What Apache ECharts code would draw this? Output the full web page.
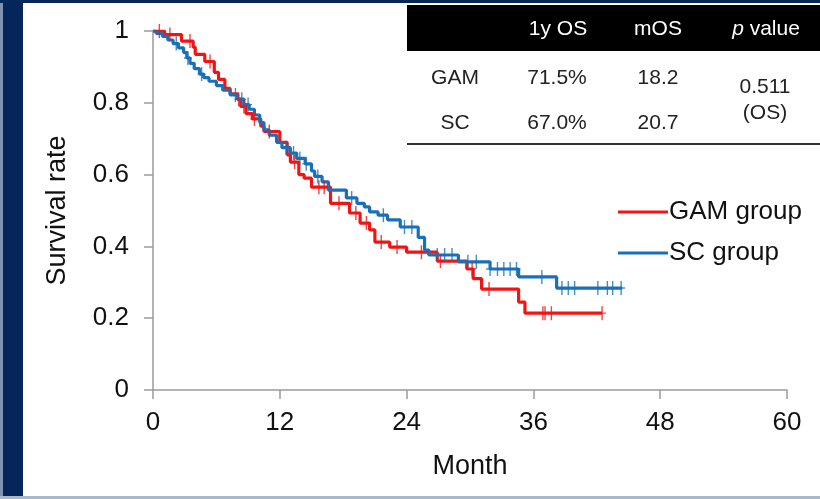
<!DOCTYPE html>
<html>
<head>
<meta charset="utf-8">
<script src="https://cdn.jsdelivr.net/npm/echarts@6/dist/echarts.min.js"></script>
<style>
  html, body { margin: 0; padding: 0; background: #fff; }
  #chart { width: 820px; height: 499px; }
</style>
</head>
<body>
<div id="chart"></div>
<script>
// survival curves (month, survival after the drop)
var gamTime = [1.1, 2.7, 3.8, 4.0, 4.9, 5.8, 6.2, 6.8, 7.3, 8.0, 8.3, 8.8, 9.4, 10.2, 10.5, 12.0, 12.7, 13.0, 13.8, 14.3, 15.0, 16.8, 18.6, 19.6, 20.5, 21.0, 22.4, 24.0, 26.9, 29.7, 30.3, 31.1, 34.6, 35.2];
var gamSurv = [0.99, 0.972, 0.955, 0.935, 0.915, 0.885, 0.865, 0.84, 0.825, 0.81, 0.79, 0.77, 0.755, 0.735, 0.72, 0.69, 0.655, 0.635, 0.6, 0.59, 0.565, 0.52, 0.493, 0.465, 0.446, 0.412, 0.398, 0.384, 0.359, 0.337, 0.31, 0.281, 0.245, 0.214];
var gamEnd = 42.5;
var gamCensor = [0.6, 1.6, 3.5, 5.4, 8.1, 8.6, 9.6, 11.0, 13.4, 15.7, 16.2, 17.6, 19.2, 20.2, 21.6, 23.1, 25.4, 27.2, 30.2, 31.8, 36.9, 37.1, 37.7, 42.5];

var scTime = [0.3, 0.9, 1.4, 1.9, 2.4, 2.9, 3.2, 3.5, 3.9, 4.4, 4.8, 5.3, 6.0, 6.6, 7.3, 8.0, 8.6, 9.1, 9.6, 10.1, 10.5, 11.0, 11.7, 12.2, 13.0, 13.6, 14.4, 15.0, 15.3, 16.0, 16.6, 18.3, 19.3, 20.0, 20.5, 21.3, 22.2, 23.4, 25.1, 25.7, 26.1, 28.9, 31.9, 34.6, 38.2];
var scSurv = [0.993, 0.985, 0.975, 0.965, 0.953, 0.94, 0.925, 0.91, 0.895, 0.88, 0.87, 0.86, 0.848, 0.835, 0.822, 0.81, 0.795, 0.782, 0.766, 0.745, 0.725, 0.71, 0.69, 0.675, 0.66, 0.645, 0.63, 0.61, 0.595, 0.58, 0.557, 0.535, 0.52, 0.51, 0.496, 0.487, 0.474, 0.454, 0.425, 0.39, 0.376, 0.357, 0.337, 0.315, 0.284];
var scEnd = 44.4;
var scCensor = [2.2, 3.3, 4.6, 7.8, 8.4, 9.0, 12.6, 13.3, 13.9, 14.5, 15.6, 18.8, 21.8, 23.8, 24.5, 26.9, 27.6, 28.3, 29.8, 30.6, 31.9, 32.6, 33.2, 33.8, 34.4, 36.8, 38.7, 39.3, 39.9, 42.1, 43.0, 43.5, 44.3];

var monthTicks = [0, 12, 24, 36, 48, 60];
var rateTicks = [0, 0.2, 0.4, 0.6, 0.8, 1];

function curve(times, surv, end) {
  var pts = [[0, 1]];
  for (var i = 0; i < times.length; i++) pts.push([times[i], surv[i]]);
  pts.push([end, surv[surv.length - 1]]);
  return pts;
}
function survAt(times, surv, t) {
  var s = 1;
  for (var i = 0; i < times.length; i++) { if (times[i] <= t) s = surv[i]; }
  return s;
}
function marks(cens, times, surv) {
  return cens.map(function (t) { return [t, survAt(times, surv, t)]; });
}

var RED = '#f01414', BLUE = '#1870b8';
var plus = 'path://M3.3,0H4.7V6.3H8V7.7H4.7V14H3.3V7.7H0V6.3H3.3Z';
var font = '"Liberation Sans", Arial, sans-serif';
var cell = '21px ' + font;

function txt(x, y, s, fill) {
  return { type: 'text', x: x, y: y, style: { text: s, fill: fill, font: cell, textAlign: 'center', textVerticalAlign: 'middle' } };
}

var chart = echarts.init(document.getElementById('chart'));
chart.setOption({
  animation: false,
  backgroundColor: '#fff',
  textStyle: { fontFamily: font },
  grid: { left: 153, right: 33, top: 31, bottom: 109 },
  legend: {
    data: ['GAM group', 'SC group'],
    orient: 'vertical', left: 613, top: 194,
    icon: 'rect', itemWidth: 50, itemHeight: 3, itemGap: 15,
    textStyle: { fontSize: 26, color: '#111', fontFamily: font, padding: [0, 0, 0, -4] }
  },
  xAxis: {
    type: 'value', min: 0, max: 60, interval: 12,
    name: 'Month', nameLocation: 'middle', nameGap: 63,
    nameTextStyle: { fontSize: 27, color: '#111' },
    axisLine: { lineStyle: { color: '#9a9a9a', width: 1.5 } },
    axisTick: { length: 9, lineStyle: { color: '#9a9a9a', width: 1.5 } },
    axisLabel: { fontSize: 26, color: '#111', margin: 20 },
    splitLine: { show: false }
  },
  yAxis: {
    type: 'value', min: 0, max: 1, interval: 0.2,
    name: 'Survival rate', nameLocation: 'middle', nameGap: 82, nameRotate: 90,
    nameTextStyle: { fontSize: 27, color: '#111' },
    axisLine: { show: true, lineStyle: { color: '#9a9a9a', width: 1.5 } },
    axisTick: { show: true, length: 9, lineStyle: { color: '#9a9a9a', width: 1.5 } },
    axisLabel: { fontSize: 26, color: '#111', margin: 24 },
    splitLine: { show: false }
  },
  series: [
    { name: 'GAM group', type: 'line', step: 'end', showSymbol: false, color: RED,
      lineStyle: { width: 3.2, color: RED }, data: curve(gamTime, gamSurv, gamEnd), z: 3 },
    { name: 'SC group', type: 'line', step: 'end', showSymbol: false, color: BLUE,
      lineStyle: { width: 3.2, color: BLUE }, data: curve(scTime, scSurv, scEnd), z: 4 },
    { name: 'gam-censor', type: 'scatter', symbol: plus, symbolSize: [8, 14],
      itemStyle: { color: RED }, data: marks(gamCensor, gamTime, gamSurv), z: 5 },
    { name: 'sc-censor', type: 'scatter', symbol: plus, symbolSize: [8, 14],
      itemStyle: { color: BLUE }, data: marks(scCensor, scTime, scSurv), z: 6 }
  ],
  graphic: [
    // slide frame
    { type: 'rect', shape: { x: 0, y: 0, width: 23, height: 499 }, style: { fill: '#05265a' } },
    { type: 'rect', shape: { x: 0, y: 0, width: 3, height: 499 }, style: { fill: '#7d93b0' } },
    { type: 'rect', shape: { x: 0, y: 0, width: 820, height: 3 }, style: { fill: '#05265a' } },
    { type: 'rect', shape: { x: 0, y: 496, width: 820, height: 3 }, style: { fill: '#a9b8ca' } },
    // table
    { type: 'rect', shape: { x: 407, y: 5, width: 413, height: 46 }, style: { fill: '#000' } },
    { type: 'rect', shape: { x: 407, y: 143, width: 413, height: 2 }, style: { fill: '#333' } },
    txt(558, 29, '1y OS', '#fff'),
    txt(658, 29, 'mOS', '#fff'),
    { type: 'text', x: 766, y: 29, style: { text: '{i|p} value', fill: '#fff', font: cell, textAlign: 'center', textVerticalAlign: 'middle',
      rich: { i: { fontStyle: 'italic', fontSize: 21, fill: '#fff', fontFamily: font } } } },
    txt(455, 78, 'GAM', '#222'),
    txt(557, 78, '71.5%', '#222'),
    txt(658, 78, '18.2', '#222'),
    txt(455, 123, 'SC', '#222'),
    txt(557, 123, '67.0%', '#222'),
    txt(658, 123, '20.7', '#222'),
    txt(765, 87, '0.511', '#222'),
    txt(765, 113, '(OS)', '#222')
  ]
});
</script>
</body>
</html>
